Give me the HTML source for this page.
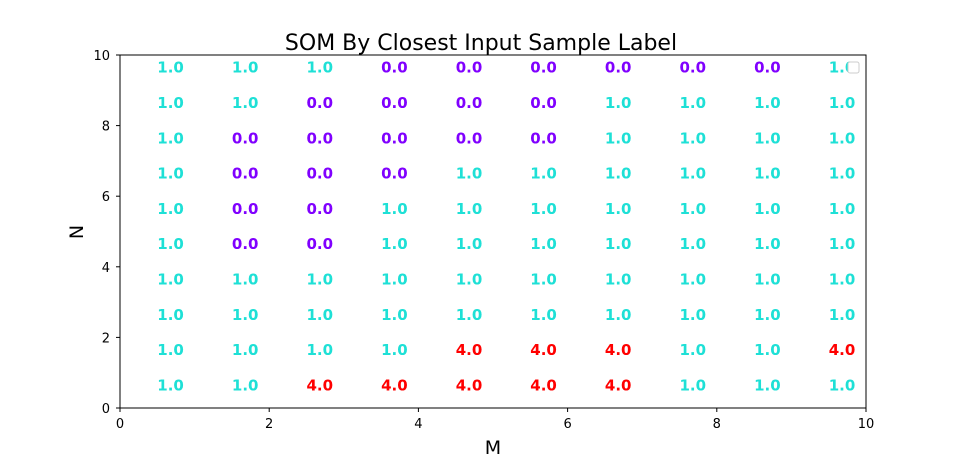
<!DOCTYPE html>
<html><head><meta charset="utf-8"><style>body{margin:0;background:#fff}svg{display:block;font-family:"DejaVu Sans","Liberation Sans",sans-serif}</style></head>
<body>
<svg id="c" width="961" height="459">
<rect width="961" height="459" fill="#fff"/>
<text x="481" y="50" font-size="22" text-anchor="middle">SOM By Closest Input Sample Label</text>
<g id="cells"></g>
<rect x="120" y="55" width="746" height="353" fill="none" stroke="#000" stroke-width="1"/>
<rect x="848" y="62" width="11" height="11" rx="2" fill="#fff" stroke="#ccc"/>
<g id="axes"></g>
<text x="493" y="454" font-size="19" text-anchor="middle">M</text>
<text x="83" y="232" font-size="19" text-anchor="middle" transform="rotate(-90 83 232)">N</text>
</svg>
<script>
const xTicks=[0,2,4,6,8,10];
const yTicks=[0,2,4,6,8,10];
// rows listed from N=0 (bottom) to N=9 (top)
const labels=[
[1,1,4,4,4,4,4,1,1,1],
[1,1,1,1,4,4,4,1,1,4],
[1,1,1,1,1,1,1,1,1,1],
[1,1,1,1,1,1,1,1,1,1],
[1,0,0,1,1,1,1,1,1,1],
[1,0,0,1,1,1,1,1,1,1],
[1,0,0,0,1,1,1,1,1,1],
[1,0,0,0,0,0,1,1,1,1],
[1,1,0,0,0,0,1,1,1,1],
[1,1,1,0,0,0,0,0,0,1]
];
const colors={0:'#8000ff',1:'#1ee0d6',4:'#ff0000'};
const NS='http://www.w3.org/2000/svg';
const X=v=>120+v*74.6, Y=v=>408-v*35.3;
const cells=document.getElementById('cells'), axes=document.getElementById('axes');
labels.forEach((row,j)=>row.forEach((v,i)=>{
 const t=document.createElementNS(NS,'text');
 t.setAttribute('x',X(i+0.5));t.setAttribute('y',Y(j+0.5));
 t.setAttribute('font-size','15');t.setAttribute('font-weight','bold');t.setAttribute('fill',colors[v]);
 t.textContent=v.toFixed(1);
 
 
 cells.appendChild(t);
}));
xTicks.forEach(v=>{
 const l=document.createElementNS(NS,'line');
 l.setAttribute('x1',X(v));l.setAttribute('x2',X(v));l.setAttribute('y1',408);l.setAttribute('y2',412);l.setAttribute('stroke','#000');
 
 
 axes.appendChild(l);
 const t=document.createElementNS(NS,'text');
 t.setAttribute('x',X(v));t.setAttribute('y',428);t.setAttribute('font-size','13');t.setAttribute('text-anchor','middle');
 t.textContent=v;
 
 
 axes.appendChild(t);
});
yTicks.forEach(v=>{
 const l=document.createElementNS(NS,'line');
 l.setAttribute('x1',116);l.setAttribute('x2',120);l.setAttribute('y1',Y(v));l.setAttribute('y2',Y(v));l.setAttribute('stroke','#000');
 
 
 axes.appendChild(l);
 const t=document.createElementNS(NS,'text');
 t.setAttribute('x',110);t.setAttribute('y',Y(v)+5);t.setAttribute('font-size','13');t.setAttribute('text-anchor','end');
 t.textContent=v;
 
 
 axes.appendChild(t);
});
</script>
</body></html>
